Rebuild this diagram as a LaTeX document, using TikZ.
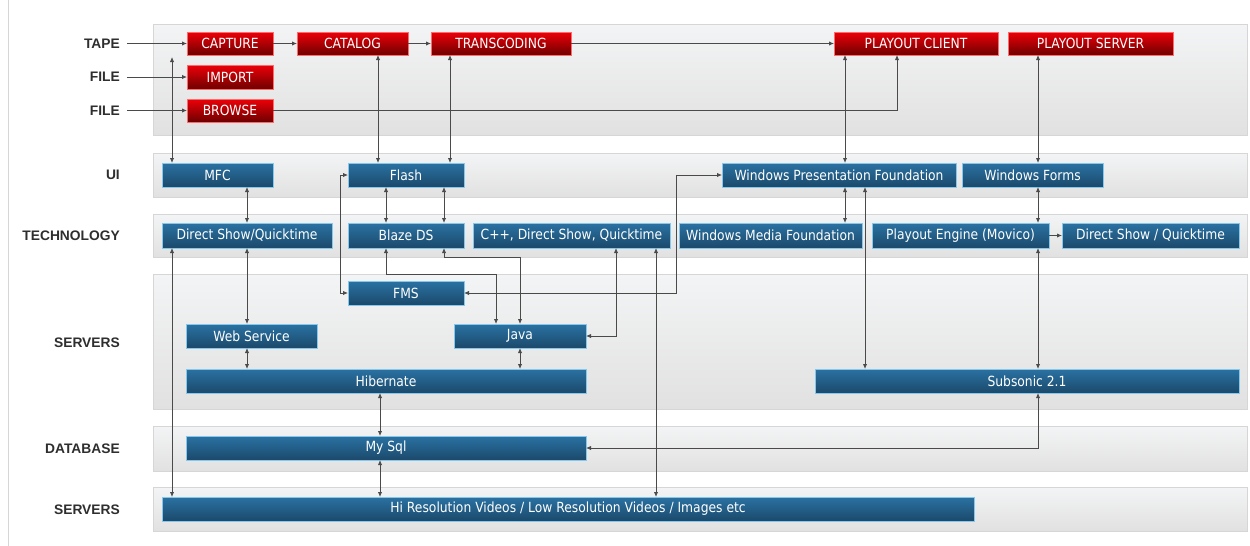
\documentclass[tikz,border=0pt]{standalone}
\usepackage{fontspec}
\setmainfont{DejaVu Sans}
\newfontfamily\bxfont[FakeStretch=0.88]{DejaVu Sans}
\newfontfamily\lblfont{Liberation Sans}
\usetikzlibrary{arrows.meta}
\definecolor{redtop}{HTML}{EC0008}
\definecolor{redbot}{HTML}{6E0000}
\definecolor{redbrd}{HTML}{FF6A6A}
\definecolor{bluetop}{HTML}{2A72A3}
\definecolor{bluebot}{HTML}{1B496B}
\definecolor{bluebrd}{HTML}{86C8EC}
\definecolor{bandtop}{HTML}{F3F4F5}
\definecolor{bandbot}{HTML}{E1E1E1}
\definecolor{bandbrd}{HTML}{D6D6D6}
\definecolor{linecol}{HTML}{4A4A4A}
\definecolor{lblcol}{HTML}{2E2E2E}
\tikzset{
  boxbase/.style={inner sep=0pt, outer sep=0pt, line width=0.9pt, text=white,
    font=\bxfont\fontsize{14}{16}\selectfont},
  rbox/.style={boxbase, draw=redbrd, top color=redtop, bottom color=redbot},
  bbox/.style={boxbase, draw=bluebrd, top color=bluetop, bottom color=bluebot},
  band/.style={draw=bandbrd, line width=0.8pt, top color=bandtop, bottom color=bandbot},
  lbl/.style={anchor=east, inner sep=0pt, text=lblcol, font=\lblfont\bfseries\fontsize{13.8}{15}\selectfont},
  arr/.style={draw=linecol, line width=0.8pt, -{Latex[length=5pt,width=4.2pt]}},
  dbl/.style={draw=linecol, line width=0.8pt, {Latex[length=5pt,width=4.2pt]}-{Latex[length=5pt,width=4.2pt]}},
}
\newcommand\bx[7]{\node[#7, minimum width={(#4-#2)*1pt}, minimum height={(#5-#3)*1pt}] (#1) at ({(#2+#4)/2},{(#3+#5)/2}) {#6};}
\begin{document}
\begin{tikzpicture}[x=1pt,y=-1pt]
\useasboundingbox (0,0) rectangle (1250,546);
\fill[white] (0,0) rectangle (1250,546);
\draw[bandbrd, line width=0.8pt] (8,0) -- (8,546);
% bands
\draw[band] (153,24) rectangle (1247,135);
\draw[band] (153,153) rectangle (1247,197);
\draw[band] (153,214) rectangle (1247,257);
\draw[band] (153,274) rectangle (1247,409);
\draw[band] (153,426) rectangle (1247,471);
\draw[band] (153,487) rectangle (1247,531);
% row labels
\node[lbl] (ltape) at (120,43.5) {TAPE};
\node[lbl] (lfile1) at (120,77) {FILE};
\node[lbl] (lfile2) at (120,110.5) {FILE};
\node[lbl] (lui) at (120,175) {UI};
\node[lbl] (ltech) at (120,236) {TECHNOLOGY};
\node[lbl] (lsrv1) at (120,343) {SERVERS};
\node[lbl] (ldb) at (120,449) {DATABASE};
\node[lbl] (lsrv2) at (120,510) {SERVERS};
% red boxes
\bx{cap}{187}{32}{273}{55}{CAPTURE}{rbox}
\bx{cat}{297}{32}{408}{55}{CATALOG}{rbox}
\bx{trn}{431}{32}{571}{55}{TRANSCODING}{rbox}
\bx{pcl}{834}{32}{998}{55}{PLAYOUT CLIENT}{rbox}
\bx{psv}{1008}{32}{1173}{55}{PLAYOUT SERVER}{rbox}
\bx{imp}{187}{65}{273}{89}{IMPORT}{rbox}
\bx{brw}{187}{99}{273}{122}{BROWSE}{rbox}
% blue boxes
\bx{mfc}{162}{163}{273}{187}{MFC}{bbox}
\bx{fla}{348}{163}{464}{187}{Flash}{bbox}
\bx{wpf}{722}{163}{956}{187}{Windows Presentation Foundation}{bbox}
\bx{wfm}{962}{163}{1103}{187}{Windows Forms}{bbox}
\bx{ds1}{162}{223}{332}{248}{Direct Show/Quicktime}{bbox}
\bx{blz}{348}{223}{464}{248}{Blaze DS}{bbox}
\bx{cpp}{473}{223}{670}{248}{C++, Direct Show, Quicktime}{bbox}
\bx{wmf}{679}{223}{862}{248}{Windows Media Foundation}{bbox}
\bx{pen}{872}{223}{1049}{248}{Playout Engine (Movico)}{bbox}
\bx{ds2}{1062}{223}{1239}{248}{Direct Show / Quicktime}{bbox}
\bx{fms}{348}{281}{464}{305}{FMS}{bbox}
\bx{web}{186}{324}{317}{348}{Web Service}{bbox}
\bx{jav}{454}{324}{586}{348}{Java}{bbox}
\bx{hib}{186}{369}{586}{393}{Hibernate}{bbox}
\bx{sub}{815}{369}{1239}{393}{Subsonic 2.1}{bbox}
\bx{sql}{186}{436}{586}{460}{My Sql}{bbox}
\bx{hires}{162}{497}{974}{521}{Hi Resolution Videos / Low Resolution Videos / Images etc}{bbox}
% routing coordinates
\coordinate (xa) at (172,0);
\coordinate (xb) at (247,0);
\coordinate (xc) at (340,0);
\coordinate (xd) at (378,0);
\coordinate (xdd) at (380,0);
\coordinate (xe) at (386,0);
\coordinate (xf) at (444,0);
\coordinate (xg) at (450,0);
\coordinate (xh) at (496,0);
\coordinate (xi) at (520,0);
\coordinate (xj) at (616,0);
\coordinate (xk) at (656,0);
\coordinate (xl) at (676,0);
\coordinate (xm) at (845,0);
\coordinate (xn) at (865,0);
\coordinate (xo) at (897,0);
\coordinate (xp) at (1038,0);
\coordinate (ya) at (0,257);
\coordinate (yb) at (0,274);
\coordinate (tapeup) at (172,57);
% connectors
\draw[arr, shorten <=7pt] (ltape.east) -- (cap.west);
\draw[arr, shorten <=7pt] (lfile1.east) -- (imp.west);
\draw[arr, shorten <=7pt] (lfile2.east) -- (brw.west);
\draw[arr] (cap) -- (cat);
\draw[arr] (cat) -- (trn);
\draw[arr] (trn) -- (pcl);
\draw[arr] (brw.east) -| (pcl.south -| xo);
\draw[dbl] (tapeup) -- (mfc.north -| tapeup);
\draw[dbl] (cat.south -| xd) -- (fla.north -| xd);
\draw[dbl] (trn.south -| xg) -- (fla.north -| xg);
\draw[dbl] (pcl.south -| xm) -- (wpf.north -| xm);
\draw[dbl] (psv.south -| xp) -- (wfm.north -| xp);
\draw[dbl] (mfc.south -| xb) -- (ds1.north -| xb);
\draw[dbl] (fla.south -| xe) -- (blz.north -| xe);
\draw[dbl] (fla.south -| xf) -- (blz.north -| xf);
\draw[dbl] (wpf.south -| xm) -- (wmf.north -| xm);
\draw[dbl] (wfm.south -| xp) -- (pen.north -| xp);
\draw[arr] (pen) -- (ds2);
\draw[dbl] (ds1.south -| xb) -- (web.north -| xb);
\draw[dbl] (web.south -| xb) -- (hib.north -| xb);
\draw[dbl] (jav.south -| xi) -- (hib.north -| xi);
\draw[dbl] (hib.south -| xdd) -- (sql.north -| xdd);
\draw[dbl] (sql.south -| xdd) -- (hires.north -| xdd);
\draw[dbl] (ds1.south -| xa) -- (hires.north -| xa);
\draw[dbl] (blz.south -| xe) |- (xh |- yb) -- (jav.north -| xh);
\draw[dbl] (blz.south -| xf) |- (xi |- ya) -- (jav.north -| xi);
\draw[dbl] (fla.west) -- (fla.west -| xc) -- (fms.west -| xc) -- (fms.west);
\draw[dbl] (fms.east) -| (xl |- wpf.west) -- (wpf.west);
\draw[dbl] (cpp.south -| xj) |- (jav.east);
\draw[dbl] (cpp.south -| xk) -- (hires.north -| xk);
\draw[dbl] (wpf.south -| xn) -- (sub.north -| xn);
\draw[dbl] (pen.south -| xp) -- (sub.north -| xp);
\draw[dbl] (sub.south -| xp) |- (sql.east);
\end{tikzpicture}
\end{document}
